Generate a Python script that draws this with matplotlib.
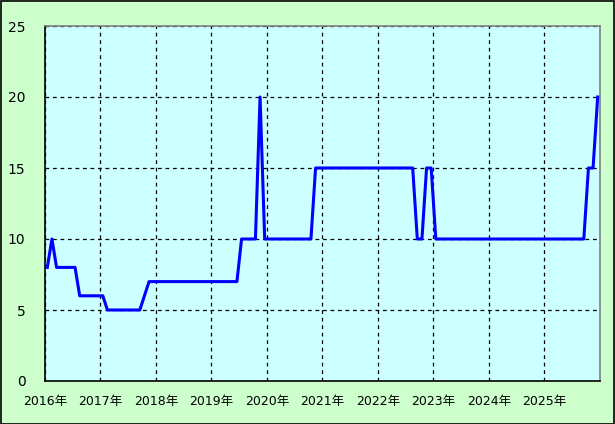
import numpy as np
import matplotlib
matplotlib.use("Agg")
import matplotlib.pyplot as plt
from matplotlib.patches import Rectangle

plt.rcParams['font.family'] = ['DejaVu Sans', 'Noto Sans CJK JP']

# monthly values, Jan..Dec for each year
anos = [2016, 2017, 2018, 2019, 2020, 2021, 2022, 2023, 2024, 2025]
valores_2016 = [8, 10, 8, 8, 8, 8, 8, 6, 6, 6, 6, 6]
valores_2017 = [6, 5, 5, 5, 5, 5, 5, 5, 5, 6, 7, 7]
valores_2018 = [7, 7, 7, 7, 7, 7, 7, 7, 7, 7, 7, 7]
valores_2019 = [7, 7, 7, 7, 7, 7, 10, 10, 10, 10, 20, 10]
valores_2020 = [10, 10, 10, 10, 10, 10, 10, 10, 10, 10, 15, 15]
valores_2021 = [15, 15, 15, 15, 15, 15, 15, 15, 15, 15, 15, 15]
valores_2022 = [15, 15, 15, 15, 15, 15, 15, 15, 10, 10, 15, 15]
valores_2023 = [10, 10, 10, 10, 10, 10, 10, 10, 10, 10, 10, 10]
valores_2024 = [10, 10, 10, 10, 10, 10, 10, 10, 10, 10, 10, 10]
valores_2025 = [10, 10, 10, 10, 10, 10, 10, 10, 10, 15, 15, 20]
rotulos_x = [f"{a}年" for a in anos]
ticks_y = [0, 5, 10, 15, 20, 25]

valores = np.concatenate([valores_2016, valores_2017, valores_2018, valores_2019,
                          valores_2020, valores_2021, valores_2022, valores_2023,
                          valores_2024, valores_2025])
# points sit in the middle of each month
x = anos[0] + (np.arange(len(valores)) + 0.5) / 12

fig = plt.figure(figsize=(6.15, 4.24), dpi=100, facecolor='#ccffcc')
ax = fig.add_axes([45 / 615, 43 / 424, 555 / 615, 355 / 424])
ax.set_facecolor('#ccffff')

ax.plot(x, valores, color='#0000ff', linewidth=2.2, zorder=3)

ax.set_xlim(anos[0], anos[-1] + 1)
ax.set_ylim(0, 25)
ax.set_xticks(anos)
ax.set_xticklabels(rotulos_x, fontsize=9)
ax.set_yticks(ticks_y)
ax.set_yticklabels([str(v) for v in ticks_y], fontsize=10)
ax.tick_params(length=0)
ax.tick_params(axis='y', pad=14)
ax.tick_params(axis='x', pad=10)

ax.grid(True, color='black', linestyle=(0, (3, 3)), linewidth=0.9)
ax.set_axisbelow(True)

ax.spines['left'].set_color('black')
ax.spines['bottom'].set_color('black')
ax.spines['top'].set_color('#808080')
ax.spines['right'].set_color('#808080')
for s in ax.spines.values():
    s.set_linewidth(1.2)

# border round the whole picture
fig.patches.append(Rectangle((0.001, 0.001), 0.997, 0.996, transform=fig.transFigure,
                             fill=False, edgecolor='black', linewidth=1.2))

fig.savefig('out.png', dpi=100, facecolor=fig.get_facecolor())
